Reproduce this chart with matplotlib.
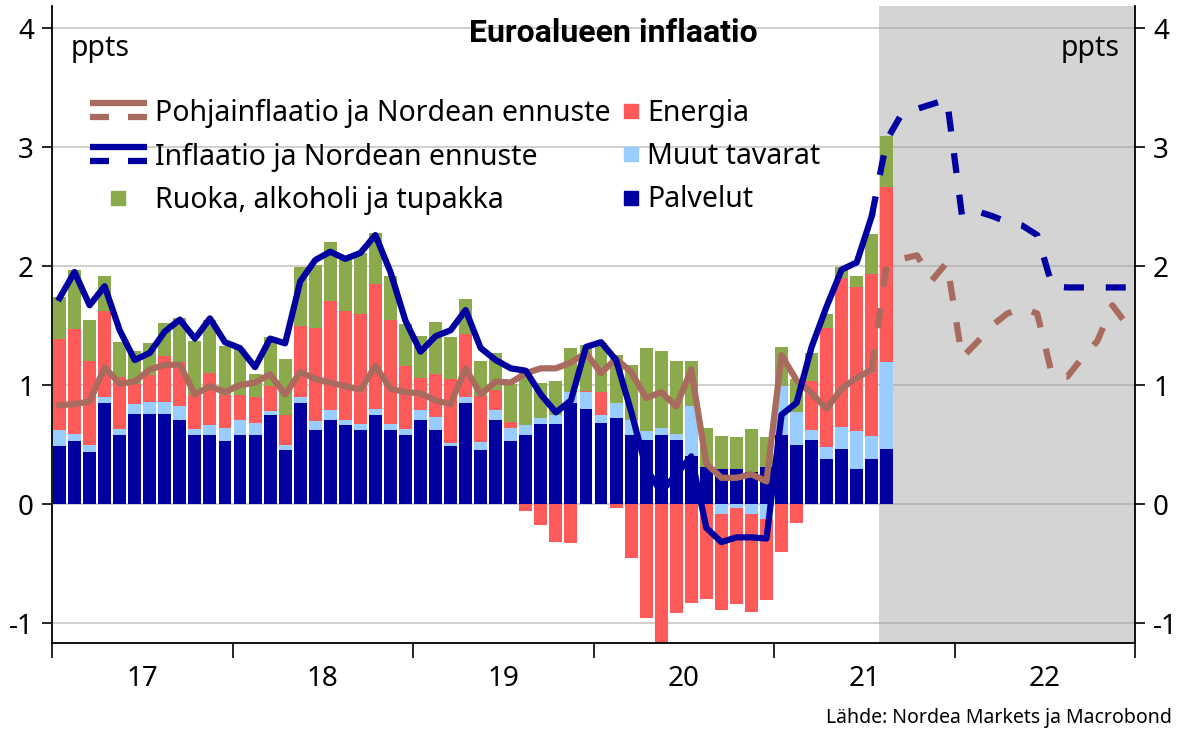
import numpy as np
import matplotlib
matplotlib.use('Agg')
import matplotlib.pyplot as plt
from matplotlib.lines import Line2D
from matplotlib.legend_handler import HandlerBase

plt.rcParams['font.family'] = ['Noto Sans', 'DejaVu Sans']
plt.rcParams['axes.unicode_minus'] = False

# contributions, ppts, Jan 2017 - Aug 2021
services = [0.49, 0.53, 0.44, 0.85, 0.58, 0.76, 0.76, 0.76, 0.71, 0.58, 0.58, 0.53,
            0.58, 0.58, 0.75, 0.45, 0.85, 0.62, 0.71, 0.66, 0.62, 0.75, 0.62, 0.58,
            0.71, 0.62, 0.49, 0.85, 0.45, 0.71, 0.53, 0.58, 0.67, 0.67, 0.85, 0.80,
            0.68, 0.72, 0.58, 0.54, 0.58, 0.54, 0.40, 0.31, 0.29, 0.29, 0.27, 0.31,
            0.58, 0.50, 0.54, 0.38, 0.46, 0.29, 0.38, 0.46]
goods = [0.13, 0.055, 0.06, 0.05, 0.05, 0.08, 0.10, 0.10, 0.11, 0.05, 0.08, 0.11,
         0.13, 0.10, 0.03, 0.05, 0.05, 0.08, 0.08, 0.05, 0.05, 0.05, 0.05, 0.05,
         0.08, 0.11, 0.02, 0.05, 0.07, 0.08, 0.11, 0.08, 0.05, 0.08, 0.09, 0.14,
         0.07, 0.13, 0.13, 0.07, 0.06, 0.05, 0.42, 0.00, -0.08, -0.03, -0.08, -0.13,
         0.41, 0.27, 0.08, 0.10, 0.19, 0.32, 0.19, 0.73]
energy = [0.77, 0.885, 0.70, 0.72, 0.44, 0.17, 0.22, 0.38, 0.37, 0.29, 0.44, 0.28,
          0.21, 0.22, 0.21, 0.25, 0.60, 0.78, 0.92, 0.91, 0.93, 1.05, 0.88, 0.53,
          0.27, 0.36, 0.54, 0.53, 0.39, 0.17, 0.05, -0.06, -0.18, -0.32, -0.33, 0.01,
          0.19, -0.03, -0.45, -0.96, -1.20, -0.92, -0.83, -0.80, -0.81, -0.81, -0.83, -0.68,
          -0.40, -0.16, 0.41, 1.00, 1.25, 1.21, 1.36, 1.47]
food = [0.35, 0.50, 0.35, 0.30, 0.29, 0.28, 0.27, 0.28, 0.37, 0.45, 0.45, 0.41,
        0.38, 0.19, 0.41, 0.47, 0.49, 0.53, 0.49, 0.43, 0.51, 0.43, 0.37, 0.35,
        0.35, 0.44, 0.35, 0.29, 0.29, 0.31, 0.32, 0.44, 0.30, 0.28, 0.37, 0.39,
        0.41, 0.40, 0.46, 0.70, 0.65, 0.61, 0.38, 0.33, 0.28, 0.27, 0.36, 0.25,
        0.33, 0.28, 0.24, 0.12, 0.09, 0.10, 0.34, 0.43]

# headline and core, Jan 2017 - Jul 2021
headline = [1.73, 1.95, 1.67, 1.83, 1.46, 1.21, 1.27, 1.45, 1.55, 1.39, 1.56, 1.36,
            1.31, 1.15, 1.39, 1.35, 1.87, 2.05, 2.12, 2.06, 2.11, 2.26, 1.95, 1.54,
            1.28, 1.41, 1.46, 1.63, 1.31, 1.21, 1.14, 1.12, 0.92, 0.77, 0.87, 1.32,
            1.36, 1.21, 0.78, 0.30, 0.10, 0.25, 0.40, -0.20, -0.32, -0.28, -0.28, -0.29,
            0.75, 0.85, 1.32, 1.66, 1.97, 2.03, 2.42]
core = [0.83, 0.84, 0.86, 1.15, 1.01, 1.03, 1.13, 1.17, 1.17, 0.92, 0.99, 0.94,
        1.00, 1.02, 1.09, 0.92, 1.11, 1.05, 1.02, 0.99, 0.96, 1.16, 0.97, 0.94,
        0.93, 0.87, 0.84, 1.14, 0.92, 1.03, 1.02, 1.10, 1.14, 1.14, 1.19, 1.27,
        1.10, 1.22, 1.11, 0.89, 0.94, 0.82, 1.13, 0.34, 0.22, 0.22, 0.25, 0.19,
        1.25, 1.04, 0.93, 0.80, 0.97, 1.06, 1.13]

# Nordea forecasts, Aug 2021 - Dec 2022
headline_fc = [3.06, 3.28, 3.32, 3.36, 3.40, 2.42, 2.46, 2.42, 2.37, 2.34, 2.26, 1.83,
               1.82, 1.82, 1.82, 1.82, 1.82]
core_fc = [2.02, 2.06, 2.09, 1.88, 2.03, 1.23, 1.36, 1.50, 1.60, 1.65, 1.60, 1.08,
           1.07, 1.23, 1.37, 1.67, 1.50]

year_labels = ['17', '18', '19', '20', '21', '22']

navy = '#0000A0'
lightblue = '#99CCFF'
red = '#FF5A5A'
green = '#8BAA4B'
brown = '#A86B5E'


class SolidDashHandler(HandlerBase):
    """legend key: solid bar on top, dashed bar below"""
    def create_artists(self, legend, orig_handle, xdescent, ydescent,
                       width, height, fontsize, trans):
        x0, y0 = -xdescent, -ydescent
        c = orig_handle.get_color()
        lw = orig_handle.get_linewidth()
        yt = y0 + 0.9 * height
        yb = y0 + 0.2 * height
        arts = [Line2D([x0, x0 + width], [yt, yt], color=c, lw=lw,
                       solid_capstyle='butt', transform=trans),
                Line2D([x0, x0 + width / 3], [yb, yb], color=c, lw=lw,
                       solid_capstyle='butt', transform=trans),
                Line2D([x0 + 2 * width / 3, x0 + width], [yb, yb], color=c, lw=lw,
                       solid_capstyle='butt', transform=trans)]
        return arts


fig = plt.figure(figsize=(11.77, 7.31), dpi=100)
ax = fig.add_axes([52 / 1177, 1 - 643 / 731, (1135 - 52) / 1177, (643 - 6) / 731])

n = len(services)
x = np.arange(n) + 0.5
pos = np.zeros(n)
neg = np.zeros(n)
for vals, col in ((services, navy), (goods, lightblue), (energy, red), (food, green)):
    v = np.array(vals)
    bottom = np.where(v >= 0, pos, neg)
    ax.bar(x, v, bottom=bottom, width=0.86, color=col, zorder=2)
    pos = pos + np.clip(v, 0, None)
    neg = neg + np.clip(v, None, 0)

# forecast period
ax.axvspan(55, 72, color='#D4D4D4', zorder=0, lw=0)

xa = np.arange(len(headline)) + 0.5
xf = np.arange(len(headline) - 1, len(headline) + len(headline_fc)) + 0.5
ax.plot(xa, core, color=brown, lw=4.5, zorder=3)
ax.plot(xf, [core[-1]] + core_fc, color=brown, lw=4.5, dashes=(3.2, 3.5), zorder=3)
ax.plot(xa, headline, color=navy, lw=4.5, zorder=4)
ax.plot(xf, [headline[-1]] + headline_fc, color=navy, lw=4.5, dashes=(3.2, 3.5), zorder=4)

ax.set_xlim(0, 72)
ax.set_ylim(-1.168, 4.185)
ax.set_yticks(range(-1, 5))
ax.yaxis.grid(True, color='#999999', alpha=0.5, lw=1.3)
ax.set_axisbelow(True)
ax.tick_params(axis='y', direction='out', length=7, width=1.2, pad=6,
               labelsize=20, left=True, right=True, labelleft=True, labelright=True)

ax.set_xticks(range(0, 73, 12))
ax.set_xticklabels([])
ax.set_xticks(np.arange(6, 72, 12), minor=True)
ax.set_xticklabels(year_labels, minor=True)
ax.tick_params(axis='x', which='major', direction='out', length=11, width=1.2)
ax.tick_params(axis='x', which='minor', length=0, pad=16, labelsize=20)

ax.spines['top'].set_visible(False)
for s in ('left', 'right', 'bottom'):
    ax.spines[s].set_linewidth(1.3)

ax.text(0.017, 0.934, 'ppts', transform=ax.transAxes, fontsize=20.5, va='center', ha='left')
ax.text(0.986, 0.934, 'ppts', transform=ax.transAxes, fontsize=20.5, va='center', ha='right')
ax.text(0.518, 0.957, 'Euroalueen inflaatio', transform=ax.transAxes, fontsize=23,
        fontweight='bold', family=['Roboto', 'DejaVu Sans'], va='center', ha='center')

h_core = Line2D([], [], color=brown, lw=4.5)
h_head = Line2D([], [], color=navy, lw=4.5)
h_food = Line2D([], [], ls='none', marker='s', ms=10, color=green)
leg1 = ax.legend([h_core, h_head, h_food],
                 ['Pohjainflaatio ja Nordean ennuste', 'Inflaatio ja Nordean ennuste',
                  'Ruoka, alkoholi ja tupakka'],
                 handler_map={h_core: SolidDashHandler(), h_head: SolidDashHandler()},
                 loc='upper left', bbox_to_anchor=(90 / 1177, 1 - 99 / 731),
                 bbox_transform=fig.transFigure, frameon=False, fontsize=20.5,
                 handlelength=2.0, handletextpad=0.3, labelspacing=0.5,
                 borderpad=0, borderaxespad=0)
ax.add_artist(leg1)

h_en = Line2D([], [], ls='none', marker='s', ms=10, color=red)
h_gd = Line2D([], [], ls='none', marker='s', ms=10, color=lightblue)
h_sv = Line2D([], [], ls='none', marker='s', ms=10, color=navy)
ax.legend([h_en, h_gd, h_sv], ['Energia', 'Muut tavarat', 'Palvelut'],
          loc='upper left', bbox_to_anchor=(623 / 1177, 1 - 99 / 731),
          bbox_transform=fig.transFigure, frameon=False, fontsize=20.5,
          handlelength=0.55, handletextpad=0.3, labelspacing=0.5,
          borderpad=0, borderaxespad=0)

fig.text(1172 / 1177, 1 - 718 / 731, 'Lähde: Nordea Markets ja Macrobond',
         ha='right', va='center', fontsize=14)

fig.savefig('out.png', dpi=100)
